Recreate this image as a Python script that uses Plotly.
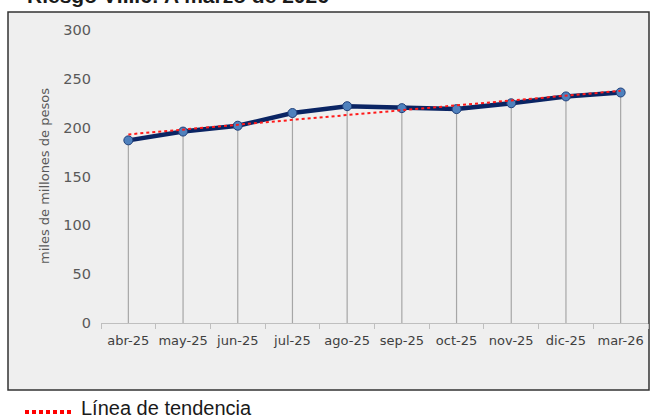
import numpy as np
import plotly.graph_objects as go

categories = ["abr-25", "may-25", "jun-25", "jul-25", "ago-25", "sep-25",
              "oct-25", "nov-25", "dic-25", "mar-26"]
values = [187, 196, 202, 215, 222, 220, 219, 225, 232, 236]
y_ticks = [0, 50, 100, 150, 200, 250, 300]
y_title = "miles de millones de pesos"
legend_label = "Línea de tendencia"
title_text = "Riesgo VIII.6: A marzo de 2026"

# linear trend (Excel-style trendline) derived from the series
idx = np.arange(len(values))
slope, intercept = np.polyfit(idx, values, 1)
trend = list(intercept + slope * idx)

W, H = 653, 419
ML, MR, MT, MB = 101, 5, 30, 96
PW, PH = W - ML - MR, H - MT - MB


def px(x):
    return (x - ML) / PW


def py(y):
    return (H - MB - y) / PH


fig = go.Figure()

# drop lines
dx, dy = [], []
for c, v in zip(categories, values):
    dx += [c, c, None]
    dy += [0, v, None]
fig.add_trace(go.Scatter(x=dx, y=dy, mode="lines",
                         line=dict(color="#a6a6a6", width=1.2),
                         hoverinfo="skip", showlegend=False))

# main series
fig.add_trace(go.Scatter(x=categories, y=values, mode="lines+markers",
                         line=dict(color="#0a2463", width=4.5),
                         marker=dict(size=9, color="#4f81bd",
                                     line=dict(color="#1f3f7a", width=1)),
                         showlegend=False))

# trend
fig.add_trace(go.Scatter(x=categories, y=trend, mode="lines",
                         line=dict(color="#ff1a1a", width=2, dash="dot"),
                         showlegend=False))

shapes = [
    dict(type="rect", xref="paper", yref="paper", layer="below",
         x0=px(8), x1=px(649), y0=py(390), y1=py(12),
         fillcolor="#efefef", line=dict(color="#333333", width=1.5)),
    dict(type="line", xref="paper", yref="paper",
         x0=px(25), x1=px(73), y0=py(412), y1=py(412),
         line=dict(color="#ff0000", width=4, dash="4px,3px")),
]

annotations = [
    dict(text=y_title, xref="paper", yref="paper", x=px(44), y=py(176),
         xanchor="center", yanchor="middle", textangle=-90, showarrow=False,
         font=dict(family="DejaVu Sans", size=13, color="#595959")),
    dict(text=legend_label, xref="paper", yref="paper", x=px(79), y=py(408),
         xanchor="left", yanchor="middle", showarrow=False,
         font=dict(family="Liberation Sans", size=20, color="#1a1a1a")),
    dict(text="<b>" + title_text + "</b>", xref="paper", yref="paper",
         x=px(331), y=py(9), xanchor="right", yanchor="bottom",
         showarrow=False,
         font=dict(family="Liberation Sans", size=21, color="#1a1a1a")),
]

fig.update_layout(
    width=W, height=H,
    margin=dict(l=ML, r=MR, t=MT, b=MB, pad=0),
    paper_bgcolor="white", plot_bgcolor="rgba(0,0,0,0)",
    shapes=shapes, annotations=annotations,
    showlegend=False,
)
fig.update_xaxes(type="category", range=[-0.5, len(categories) - 0.5],
                 showgrid=False, zeroline=False, showline=True,
                 linecolor="#bfbfbf", linewidth=1,
                 ticks="outside", tickson="boundaries", ticklen=5,
                 tickcolor="#bfbfbf", tickangle=0, ticklabelstandoff=5,
                 tickfont=dict(family="DejaVu Sans", size=13, color="#404040"))
fig.update_yaxes(range=[0, 300], tickvals=y_ticks, showgrid=False,
                 zeroline=False, showline=False, ticks="",
                 ticklabelstandoff=9,
                 tickfont=dict(family="DejaVu Sans", size=14.5, color="#595959"))

fig.write_html("out.html",
               config={"displayModeBar": False},
               post_script="document.body.style.margin='0';"
                           "document.body.style.overflow='hidden';")
